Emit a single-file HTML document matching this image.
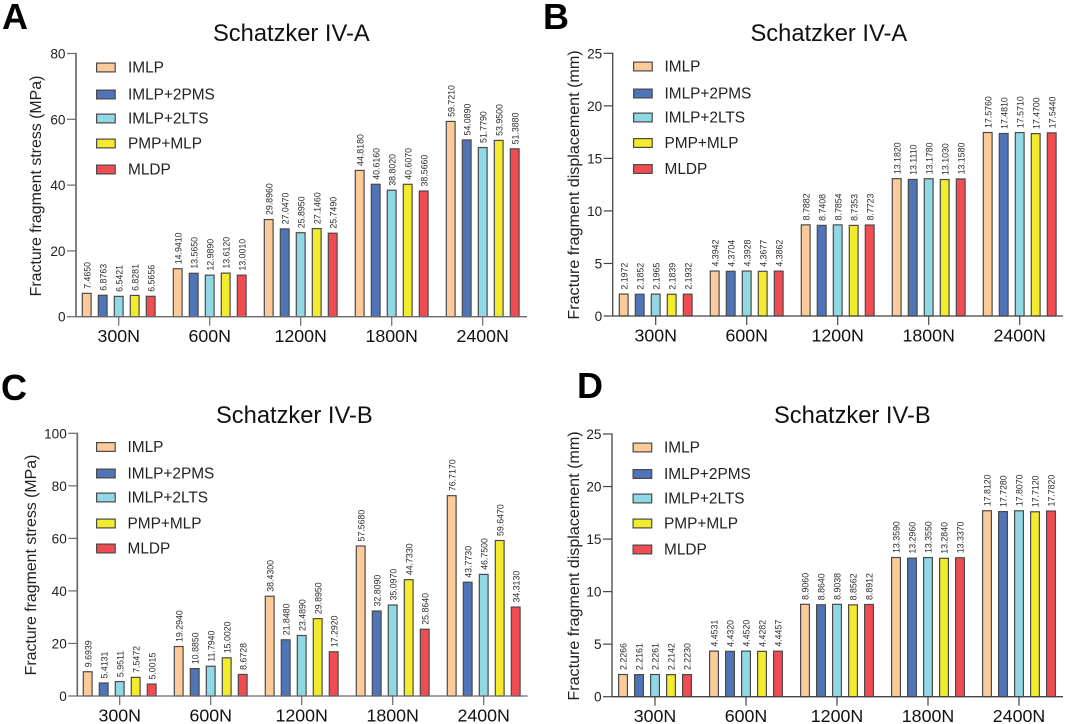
<!DOCTYPE html>
<html lang="en">
<head>
<meta charset="utf-8">
<title>Schatzker IV fracture fragment stress and displacement</title>
<style>
html,body{margin:0;padding:0;background:#fff;width:1065px;height:724px;overflow:hidden}
svg{display:block;font-family:"Liberation Sans",Arial,sans-serif}
</style>
</head>
<body>
<svg id="figure" xmlns="http://www.w3.org/2000/svg" width="1065" height="724" viewBox="0 0 1065 724"></svg>
<script>
const categories = ['300N', '600N', '1200N', '1800N', '2400N'];
const seriesNames = ['IMLP', 'IMLP+2PMS', 'IMLP+2LTS', 'PMP+MLP', 'MLDP'];
const seriesColors = ['#fdcb9a', '#4f75b8', '#8fd8e4', '#f2ec2c', '#f14c52'];

const stressTicksA = [0, 20, 40, 60, 80];
const displacementTicksB = [0, 5, 10, 15, 20, 25];
const stressTicksC = [0, 20, 40, 60, 80, 100];
const displacementTicksD = [0, 5, 10, 15, 20, 25];

const valuesA = [
  [7.4650, 14.9410, 29.8960, 44.8180, 59.7210],
  [6.8763, 13.5650, 27.0470, 40.6160, 54.0890],
  [6.5421, 12.9890, 25.8950, 38.8020, 51.7790],
  [6.8281, 13.6120, 27.1460, 40.6070, 53.9500],
  [6.5656, 13.0010, 25.7490, 38.5660, 51.3880]
];
const valuesB = [
  [2.1972, 4.3942, 8.7882, 13.1820, 17.5760],
  [2.1852, 4.3704, 8.7408, 13.1110, 17.4810],
  [2.1965, 4.3928, 8.7854, 13.1780, 17.5710],
  [2.1839, 4.3677, 8.7353, 13.1030, 17.4700],
  [2.1932, 4.3862, 8.7723, 13.1580, 17.5440]
];
const valuesC = [
  [9.6939, 19.2940, 38.4300, 57.5680, 76.7170],
  [5.4131, 10.8850, 21.8480, 32.8090, 43.7730],
  [5.9511, 11.7940, 23.4890, 35.0970, 46.7500],
  [7.5472, 15.0020, 29.8950, 44.7330, 59.6470],
  [5.0015, 8.6728, 17.2920, 25.8640, 34.3130]
];
const valuesD = [
  [2.2266, 4.4531, 8.9060, 13.3590, 17.8120],
  [2.2161, 4.4320, 8.8640, 13.2960, 17.7280],
  [2.2261, 4.4520, 8.9038, 13.3550, 17.8070],
  [2.2142, 4.4282, 8.8562, 13.2840, 17.7120],
  [2.2230, 4.4457, 8.8912, 13.3370, 17.7820]
];

const panels = [
  {id:'a', letter:'A', letterX:2, letterY:29, title:'Schatzker IV-A', titleX:213, titleY:41,
   yTitle:'Fracture fragment stress (MPa)', yTitleSize:15.9, yTitleX:41, yTitleY:186,
   axisX:76, top:53.5, base:316.7, first:81.7, end:527, ticks:stressTicksA, values:valuesA,
   axisColor:'#6a6a6a', axisWidth:1.7, swatchX:96, labelX:128, legendY:[67.5, 94.5, 118.5, 143.5, 169.5]},
  {id:'b', letter:'B', letterX:543, letterY:29, title:'Schatzker IV-A', titleX:750.5, titleY:41,
   yTitle:'Fracture fragment displacement (mm)', yTitleSize:16.1, yTitleX:579, yTitleY:185,
   axisX:612.7, top:53.3, base:316, first:618.7, end:1063, ticks:displacementTicksB, values:valuesB,
   axisColor:'#454545', axisWidth:1.3, swatchX:633, labelX:664.5, legendY:[66.5, 93.5, 117.5, 143, 169]},
  {id:'c', letter:'C', letterX:1, letterY:400, title:'Schatzker IV-B', titleX:216, titleY:423,
   yTitle:'Fracture fragment stress (MPa)', yTitleSize:15.9, yTitleX:36, yTitleY:565,
   axisX:77.3, top:433.3, base:696, first:82.7, end:527.7, ticks:stressTicksC, values:valuesC,
   axisColor:'#6a6a6a', axisWidth:1.7, swatchX:96, labelX:127.5, legendY:[447, 473.5, 497.5, 523.5, 548.5]},
  {id:'d', letter:'D', letterX:577, letterY:398, title:'Schatzker IV-B', titleX:774, titleY:423,
   yTitle:'Fracture fragment displacement (mm)', yTitleSize:16.1, yTitleX:579, yTitleY:566,
   axisX:612, top:434, base:696.7, first:618, end:1063, ticks:displacementTicksD, values:valuesD,
   axisColor:'#454545', axisWidth:1.3, swatchX:632.5, labelX:664, legendY:[447.5, 474, 498.5, 523.5, 549.5]}
];

const barWidth = 10;
const barPitch = 16;
const groupPitch = 91;
const svg = document.getElementById('figure');
const NS = 'http://www.w3.org/2000/svg';

function make(tag, attrs, parent, text) {
  const el = document.createElementNS(NS, tag);
  Object.keys(attrs).forEach(function (k) { el.setAttribute(k, attrs[k]); });
  if (text !== undefined) el.textContent = text;
  parent.appendChild(el);
  return el;
}
function yScale(p, value) {
  const maxTick = p.ticks[p.ticks.length - 1];
  return p.base - (value / maxTick) * (p.base - p.top);
}
function xBar(p, groupIndex, seriesIndex) {
  return p.first + groupIndex * groupPitch + seriesIndex * barPitch;
}
function xGroup(p, groupIndex) {
  return xBar(p, groupIndex, 0) + (barPitch * 4 + barWidth) / 2;
}

panels.forEach(function (p) {
  const g = make('g', {}, svg);
  
  

  const letter = make('text', {x:p.letterX, y:p.letterY, 'font-size':36, 'font-weight':'bold', fill:'#000'}, g, p.letter);
  
  

  const title = make('text', {x:p.titleX, y:p.titleY, 'font-size':23.7, fill:'#111'}, g, p.title);
  
  

  const yTitle = make('text', {x:0, y:0, 'font-size':p.yTitleSize, fill:'#222', 'text-anchor':'middle',
    transform:'translate(' + p.yTitleX + ' ' + p.yTitleY + ') rotate(-90)'}, g, p.yTitle);
  
  

  p.values.forEach(function (series, s) {
    series.forEach(function (v, c) {
      const top = yScale(p, v) + 1.2;
      const bx = xBar(p, c, s);
      const bar = make('rect', {x:bx + 0.6, y:top, width:barWidth - 1.2, height:p.base - top,
        fill:seriesColors[s], stroke:'#4a4a4a', 'stroke-width':1.2}, g);
      
      

      const lx = bx + barWidth / 2 + 3.6;
      const ly = top - 4.5;
      const label = make('text', {x:0, y:0, 'font-size':8.8, fill:'#2a2a2a',
        transform:'translate(' + lx + ' ' + ly + ') rotate(-90)'}, g, v.toFixed(4));
      
      
    });
  });

  const yAxis = make('line', {x1:p.axisX, x2:p.axisX, y1:p.top - 0.6, y2:p.base + 0.6, stroke:p.axisColor, 'stroke-width':p.axisWidth}, g);
  
  

  const xAxis = make('line', {x1:p.axisX, x2:p.end, y1:p.base, y2:p.base, stroke:p.axisColor, 'stroke-width':1.3}, g);
  
  

  p.ticks.forEach(function (t) {
    const ty = yScale(p, t);
    const tick = make('line', {x1:p.axisX - 9, x2:p.axisX, y1:ty, y2:ty, stroke:p.axisColor, 'stroke-width':1.2}, g);
    
    

    const tl = make('text', {x:p.axisX - 10.5, y:ty + 5, 'font-size':13.6, fill:'#222', 'text-anchor':'end'}, g, String(t));
    
    
  });

  categories.forEach(function (cat, c) {
    const tx = xGroup(p, c);
    const tick = make('line', {x1:tx, x2:tx, y1:p.base, y2:p.base + 9, stroke:p.axisColor, 'stroke-width':1.2}, g);
    
    

    const tl = make('text', {x:tx, y:p.base + 25.5, 'font-size':17.8, fill:'#111', 'text-anchor':'middle'}, g, cat);
    
    
  });

  seriesNames.forEach(function (name, s) {
    const ly = p.legendY[s];
    const swatch = make('rect', {x:p.swatchX + 0.6, y:ly - 4.4, width:18.6, height:8.8,
      fill:seriesColors[s], stroke:'#4a4a4a', 'stroke-width':1.2}, g);
    
    

    const text = make('text', {x:p.labelX, y:ly + 5.2, 'font-size':15.4, fill:'#222'}, g, name);
    
    
  });
});
</script>
</body>
</html>
